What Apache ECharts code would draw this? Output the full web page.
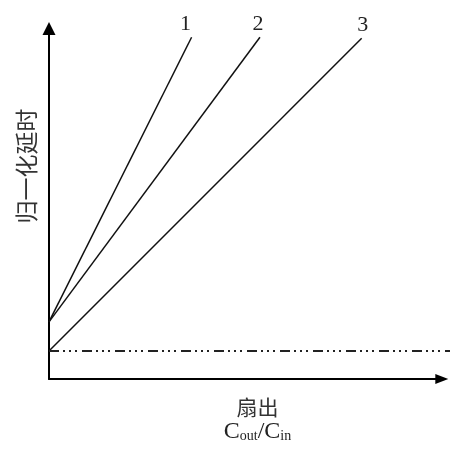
<!DOCTYPE html>
<html>
<head>
<meta charset="utf-8">
<script src="https://cdn.jsdelivr.net/npm/echarts@6/dist/echarts.min.js"></script>
<style>
html,body{margin:0;padding:0;background:#fff;}
#chart{width:459px;height:451px;}
</style>
</head>
<body>
<div id="chart"></div>
<script>
// ---- data ----
const curveNames = ['1', '2', '3'];
const curveStartY = [1.63, 1.63, 0.80];
const curveEndX = [3.63, 5.37, 7.96];
const curveEndY = [9.75, 9.75, 9.72];
const baselineY = 0.80;
const baselineEndX = 10.21;
const yAxisTitle = '归一化延时';
const xAxisTitle = '扇出';
const xAxisFormula = ['C', 'out', '/C', 'in'];

// ---- styles (not data) ----
const labelNudgeX = [-6, -2, 1];

const chart = echarts.init(document.getElementById('chart'), null, {renderer: 'canvas'});

function axis(symbolSize, gridIndex, max, visible) {
  return {
    type: 'value',
    gridIndex: gridIndex,
    min: 0,
    max: max,
    show: visible,
    axisLine: {
      show: visible,
      symbol: ['none', 'triangle'],
      symbolSize: symbolSize,
      lineStyle: {color: '#000', width: 2}
    },
    axisTick: {show: false},
    axisLabel: {show: false},
    splitLine: {show: false}
  };
}

const series = curveNames.map((name, i) => ({
  type: 'line',
  name: name,
  silent: true,
  xAxisIndex: 0,
  yAxisIndex: 0,
  symbol: 'circle',
  symbolSize: 1,
  showSymbol: true,
  itemStyle: {color: 'rgba(0,0,0,0)'},
  lineStyle: {color: '#111', width: 1.5},
  data: [
    {value: [0, curveStartY[i]]},
    {
      value: [curveEndX[i], curveEndY[i]],
      label: {
        show: true,
        position: 'top',
        distance: 2,
        offset: [labelNudgeX[i], 0],
        formatter: name,
        fontFamily: 'Liberation Serif',
        fontSize: 22,
        color: '#222'
      }
    }
  ]
}));

series.push({
  type: 'line',
  name: 'baseline',
  silent: true,
  xAxisIndex: 1,
  yAxisIndex: 1,
  clip: false,
  symbol: 'none',
  lineStyle: {color: '#222', width: 2, type: [10, 4, 2, 4, 2, 4, 2, 5]},
  data: [[0, baselineY], [baselineEndX, baselineY]]
});

const option = {
  animation: false,
  backgroundColor: '#fff',
  grid: [
    {left: 49, right: 17.2, top: 28.5, bottom: 72},
    {left: 49, right: 9, top: 28.5, bottom: 72}
  ],
  xAxis: [axis([10, 13], 0, 10, true), axis([10, 13], 1, 10.21, false)],
  yAxis: [axis([13, 13], 0, 10, true), axis([13, 13], 1, 10, false)],
  series: series,
  graphic: [
    {
      type: 'text',
      x: 26, y: 166,
      rotation: Math.PI / 2,
      style: {
        text: yAxisTitle,
        fontFamily: 'Noto Sans CJK SC',
        fontSize: 23,
        fill: '#333',
        align: 'center',
        verticalAlign: 'middle'
      }
    },
    {
      type: 'text',
      x: 257.5, y: 407,
      style: {
        text: xAxisTitle,
        fontFamily: 'Noto Sans CJK SC',
        fontSize: 21,
        fill: '#333',
        align: 'center',
        verticalAlign: 'middle'
      }
    },
    {
      type: 'text',
      x: 257.5, y: 431.5,
      style: {
        text: '{c|' + xAxisFormula[0] + '}{s|' + xAxisFormula[1] + '}{c|' + xAxisFormula[2] + '}{s|' + xAxisFormula[3] + '}',
        align: 'center',
        verticalAlign: 'middle',
        fill: '#222',
        rich: {
          c: {fontFamily: 'Liberation Serif', fontSize: 24, lineHeight: 24, fill: '#222'},
          s: {fontFamily: 'Liberation Serif', fontSize: 14, lineHeight: 14, verticalAlign: 'bottom', fill: '#222'}
        }
      }
    }
  ]
};

chart.setOption(option);
</script>
</body>
</html>
